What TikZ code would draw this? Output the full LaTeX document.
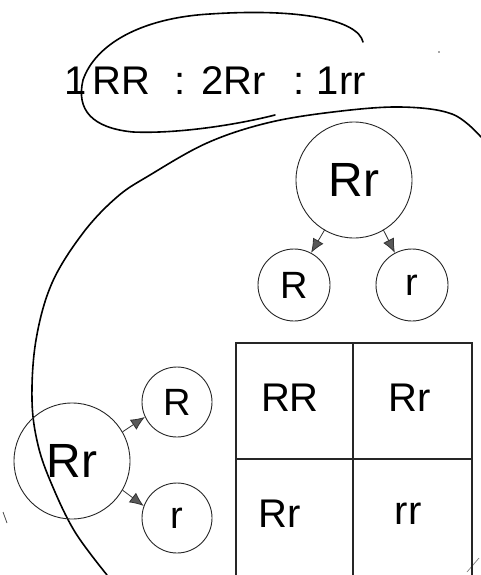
\documentclass[tikz,border=0pt]{standalone}
\usepackage{fontspec}
\setmainfont{Liberation Sans}
\usetikzlibrary{arrows.meta}
\begin{document}
\begin{tikzpicture}[x=1pt,y=-1pt,
  ring/.style={draw=black!85,line width=0.9pt,circle,inner sep=0pt},
  bigfont/.style={font=\fontsize{48}{48}\selectfont},
  midfont/.style={font=\fontsize{38}{38}\selectfont},
  cellfont/.style={font=\fontsize{40}{40}\selectfont},
  arr/.style={draw=black!80,line width=0.8pt,-{Latex[length=14pt,width=12pt,fill=black!65]}},
  hand/.style={draw=black,line width=1.6pt,line cap=round,line join=round},
  grid/.style={draw=black!85,line width=1.1pt}]
\useasboundingbox (0,0) rectangle (481,575);
% ratio text
\node[font=\fontsize{40}{40}\selectfont,anchor=base west,inner sep=0pt] (ratio) at (64,95)
  {1\hspace{6pt}RR\hspace{24pt}:\hspace{16pt}2Rr\hspace{28pt}:\hspace{12pt}1rr};
% loop around ratio
\draw[hand] (363,42) .. controls (358,20) and (300,8) .. (210,14)
  .. controls (140,18) and (95,45) .. (83,80)
  .. controls (76,110) and (92,128) .. (133,132)
  .. controls (180,134) and (240,124) .. (275,115);
% big curve
\draw[hand] plot[smooth,tension=0.6] coordinates {(481,137) (452,114) (400,107) (333,112) (267,123) (207,143) (150,175) (117,197) (83,233) (52,283) (36,340) (32,400) (38,445) (52,485) (75,532) (107,575)};
% stray marks
\fill[black!70] (439,52) circle (0.9pt);
\draw[black!70,line width=0.8pt] (3,512) -- (7,523);
\draw[black!50,line width=0.7pt] (467,572) -- (479,558);
% top parent
\node[ring,minimum size=116pt,bigfont] (p1) at (354,180) {Rr};
\node[ring,minimum size=72pt,midfont] (g1) at (294,285) {R};
\node[ring,minimum size=72pt,midfont] (g2) at (412,285) {r};
\draw[arr] (p1.240) ++(0,-1) -- (g1.62);
\draw[arr] (p1.300) ++(0,-1) -- (g2.118);
% left parent
\node[ring,minimum size=116pt,bigfont] (p2) at (72,461) {Rr};
\node[ring,minimum size=70pt,midfont] (g3) at (177,402) {R};
\node[ring,minimum size=70pt,midfont] (g4) at (177,518) {r};
\draw[arr] (p2.30) -- (g3.205);
\draw[arr] (p2.330) -- (g4.160);
% punnett grid
\draw[grid] (236,575) -- (236,343) -- (472,343) -- (472,575);
\draw[grid] (353,343) -- (353,575);
\draw[grid] (236,459) -- (472,459);
\node[cellfont] (c11) at (290,398) {RR};
\node[cellfont] (c12) at (410,398) {Rr};
\node[cellfont] (c21) at (280,514) {Rr};
\node[cellfont] (c22) at (408,514) {rr};
\end{tikzpicture}
\end{document}
